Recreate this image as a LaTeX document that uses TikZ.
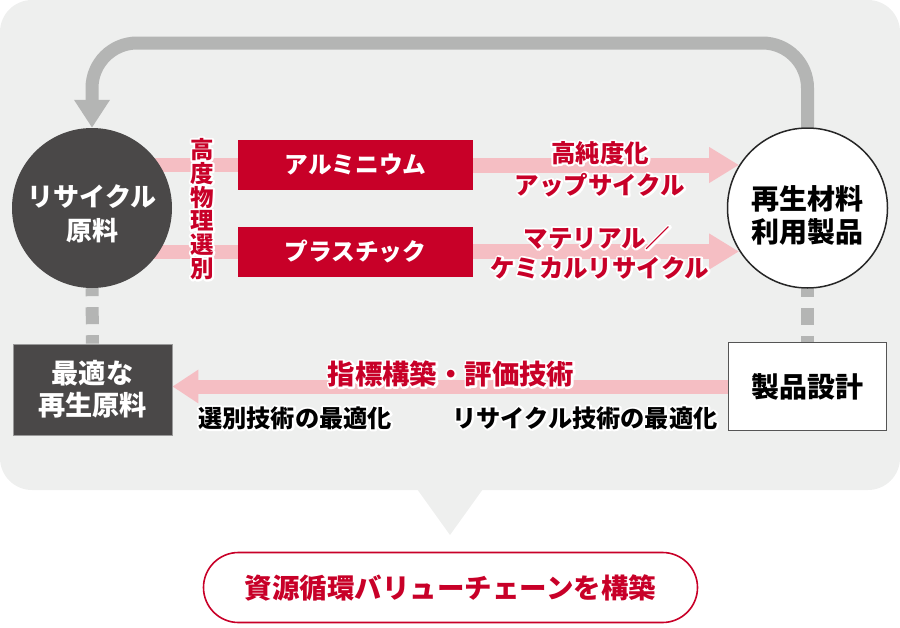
\documentclass[tikz,border=0pt]{standalone}
\usepackage{fontspec}
\setmainfont{Noto Sans CJK JP}
\usetikzlibrary{arrows.meta}
\definecolor{bggray}{RGB}{238,239,238}
\definecolor{loopgray}{RGB}{180,181,180}
\definecolor{darkfill}{RGB}{74,72,72}
\definecolor{redbox}{RGB}{200,0,40}
\definecolor{pinkline}{RGB}{245,190,195}
\definecolor{boxedge}{RGB}{85,85,85}
% white outline behind text: stroke the glyphs in white, then set them normally
\newcommand\halo[1]{\makebox[0pt][l]{\special{pdf:literal direct 2 Tr 4 w 1 j 1 1 1 RG}\textcolor{white}{#1}\special{pdf:literal direct 0 Tr}}#1}
\pgfdeclarelayer{back}
\pgfdeclarelayer{mid}
\pgfsetlayers{back,mid,main}
\tikzset{
  darkcircle/.style={circle, minimum size=160pt, inner sep=0pt, fill=darkfill},
  whitecircle/.style={circle, minimum size=160pt, inner sep=0pt, fill=white, draw=black!85, line width=1.5pt},
  circletext/.style={inner sep=0pt, align=center, font=\bfseries\fontsize{26}{34}\selectfont},
  redboxstyle/.style={rectangle, minimum width=235pt, minimum height=50pt, inner sep=0pt, fill=redbox, text=white, font=\bfseries\fontsize{23.7}{23.7}\selectfont},
  redlabel/.style={text=redbox, inner sep=0pt, font=\bfseries\fontsize{24.5}{24.5}\selectfont},
  blacklabel/.style={text=black, inner sep=0pt, font=\bfseries\fontsize{24.2}{24.2}\selectfont},
  pinkbar/.style={draw=pinkline, line width=14pt},
  pinkarrow/.style={draw=pinkline, line width=15pt, -{Triangle[length=30pt,width=34pt]}},
  grayloop/.style={draw=loopgray, line width=13pt, rounded corners=45pt, -{Triangle[length=28pt,width=34pt]}},
  graydash/.style={draw=loopgray, line width=13pt, dash pattern=on 17pt off 11pt, dash phase=9pt},
}
\begin{document}
\begin{tikzpicture}[x=1pt,y=-1pt]
\useasboundingbox (0,0) rectangle (900,627);
\begin{pgfonlayer}{back}
\fill[bggray, rounded corners=32pt] (0,0) rectangle (900,490);
\fill[bggray] (417,489) -- (483,489) -- (450,535) -- cycle;
\end{pgfonlayer}

% main nodes
\node[darkcircle] (lc) at (92,208) {};
\node[circletext, text=white] (lct) at (92,214) {リサイクル\\原料};
\node[whitecircle] (rc) at (807.5,208) {};
\node[circletext, text=black, font=\bfseries\fontsize{28}{33}\selectfont] (rct) at (807.5,215) {再生材料\\利用製品};
\node[redboxstyle] (alu) at (355.5,165) {アルミニウム};
\node[redboxstyle] (pla) at (355.5,251.5) {プラスチック};
\node[rectangle, minimum width=159pt, minimum height=91pt, inner sep=0pt, fill=darkfill, draw=black!40, line width=0.8pt, text=white, align=center, font=\bfseries\fontsize{27.2}{32}\selectfont] (opt) at (92.5,389.5) {最適な\\再生原料};
\node[rectangle, minimum width=158pt, minimum height=88pt, inner sep=0pt, fill=white, draw=boxedge, line width=1.5pt, font=\bfseries\fontsize{28}{28}\selectfont] (design) at (807.5,386.5) {製品設計};
\node[rectangle, rounded corners=35pt, minimum width=494pt, minimum height=70pt, inner sep=0pt, fill=white, draw=redbox, line width=1.6pt, text=redbox, font=\bfseries\fontsize{27.5}{27.5}\selectfont] (goal) at (450.5,587.5) {資源循環バリューチェーンを構築};

% labels
\node[redlabel, align=center, font=\bfseries\fontsize{23.5}{23.8}\selectfont] (sort) at (202,209) {\halo{高}\\\halo{度}\\\halo{物}\\\halo{理}\\\halo{選}\\\halo{別}};
\node[redlabel] (up1) at (600,153) {\halo{高純度化}};
\node[redlabel] (up2) at (600,185) {\halo{アップサイクル}};
\node[redlabel] (mr1) at (597,238) {\halo{マテリアル／}};
\node[redlabel] (mr2) at (600,268) {\halo{ケミカルリサイクル}};
\node[redlabel, font=\bfseries\fontsize{27.4}{27.4}\selectfont] (idx) at (451,374) {\halo{指標構築・評価技術}};
\node[blacklabel] (sel) at (295,418) {\halo{選別技術の最適化}};
\node[blacklabel] (rec) at (585,418) {\halo{リサイクル技術の最適化}};

\path (rc.148) coordinate (rcA) (rc.212) coordinate (rcB);

\begin{pgfonlayer}{mid}
\draw[grayloop] (rc.north) -- (rc.north |- 0,43) -- (lc.north |- 0,43) -- (lc.north);
\draw[graydash] (lc.south) -- (opt.north);
\draw[graydash] (rc.south) -- (design.north);
\draw[pinkbar] (lc.center |- alu.west) -- (alu.west);
\draw[pinkbar] (lc.center |- pla.west) -- (pla.west);
\draw[pinkarrow] (alu.east) -- (alu.east -| rcA);
\draw[pinkarrow] (pla.east) -- (pla.east -| rcB);
\draw[pinkarrow, line width=14pt, -{Triangle[length=26pt,width=32pt]}] (design.west) -- (design.west -| opt.east);
\end{pgfonlayer}
\end{tikzpicture}
\end{document}
